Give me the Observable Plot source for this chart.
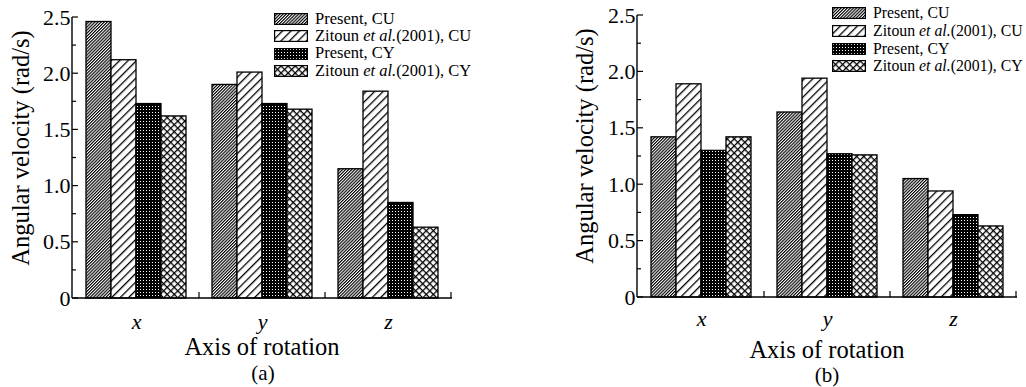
<!DOCTYPE html>
<html><head><meta charset="utf-8">
<script src="https://cdn.jsdelivr.net/npm/d3@7"></script>
<script src="https://cdn.jsdelivr.net/npm/@observablehq/plot@0.6"></script>
<style>
body{margin:0;background:#fff;font-family:"Liberation Serif","Times New Roman",serif;color:#000;}
#root{position:relative;width:1026px;height:387px;overflow:hidden;background:#fff;}
#root svg text{font-family:"Liberation Serif","Times New Roman",serif;}
.legend{position:absolute;line-height:1;}
.legend .row{display:flex;align-items:center;white-space:nowrap;}
.legend svg{margin-right:7px;flex:none;}
.txt{position:absolute;white-space:nowrap;line-height:1;transform:translateX(-50%);}
.ylab{position:absolute;white-space:nowrap;line-height:1;font-size:24.5px;transform:translate(-50%,-50%) rotate(-90deg);}
</style></head><body>
<svg width="0" height="0" style="position:absolute">
<defs>
<pattern id="pCU" patternUnits="userSpaceOnUse" width="2.2" height="4" patternTransform="rotate(45)">
<rect width="2.2" height="4" fill="#fff"/><rect x="0" y="0" width="1.15" height="4" fill="#000"/></pattern>
<pattern id="pZCU" patternUnits="userSpaceOnUse" width="6" height="6" patternTransform="rotate(45)">
<rect width="6" height="6" fill="#fff"/><rect x="0" y="0" width="1.3" height="6" fill="#000"/></pattern>
<pattern id="pCY" patternUnits="userSpaceOnUse" width="3" height="3">
<rect width="3" height="3" fill="#000"/><rect x="1" y="1" width="1" height="1" fill="#fff"/></pattern>
<pattern id="pZCY" patternUnits="userSpaceOnUse" width="5" height="5" patternTransform="rotate(45)">
<rect width="5" height="5" fill="#fff"/><rect x="0" y="0" width="1.3" height="5" fill="#000"/><rect x="0" y="0" width="5" height="1.3" fill="#000"/></pattern>
</defs></svg>
<div id="root"></div>
<script>
// ---- data ----
const groups = ["x", "y", "z"];
const seriesNames = ["Present, CU", "Zitoun et al.(2001), CU", "Present, CY", "Zitoun et al.(2001), CY"];
const patternIds = ["pCU", "pZCU", "pCY", "pZCY"];

// panel (a)
const aPresentCU = [2.46, 1.90, 1.15];
const aZitounCU  = [2.12, 2.01, 1.84];
const aPresentCY = [1.73, 1.73, 0.85];
const aZitounCY  = [1.62, 1.68, 0.63];
// panel (b)
const bPresentCU = [1.42, 1.64, 1.05];
const bZitounCU  = [1.89, 1.94, 0.94];
const bPresentCY = [1.30, 1.27, 0.73];
const bZitounCY  = [1.42, 1.26, 0.63];

const yTicks = [0, 0.5, 1.0, 1.5, 2.0, 2.5];
const yMinorTicks = [0.25, 0.75, 1.25, 1.75, 2.25];
const yLabel = "Angular velocity (rad/s)";
const xLabel = "Axis of rotation";

const SERIF = "'Liberation Serif', 'Times New Roman', serif";

function toRows(seriesArrays) {
  const rows = [];
  seriesArrays.forEach((vals, si) => {
    vals.forEach((v, gi) => rows.push({axis: groups[gi], series: seriesNames[si], value: v}));
  });
  return rows;
}
const rowsA = toRows([aPresentCU, aZitounCU, aPresentCY, aZitounCY]);
const rowsB = toRows([bPresentCU, bZitounCU, bPresentCY, bZitounCY]);
const patternOf = Object.fromEntries(seriesNames.map((s, i) => [s, `url(#${patternIds[i]})`]));

const root = document.getElementById("root");

function makePanel(rows, o) {
  const plot = Plot.plot({
    width: o.width, height: 335,
    marginLeft: o.ml, marginRight: o.mr, marginTop: o.mt, marginBottom: o.mb,
    style: {fontFamily: SERIF, color: "#000", background: "transparent", overflow: "visible"},
    fx: {domain: groups, padding: 0},
    x: {domain: seriesNames, paddingInner: 0, paddingOuter: 0.44, axis: null},
    y: {domain: [0, 2.5]},
    color: {type: "identity"},
    marks: [
      Plot.barY(rows, {fx: "axis", x: "series", y: "value", fill: d => patternOf[d.series], stroke: "#000", strokeWidth: 1.3}),
      Plot.axisY({ticks: yTicks, tickSize: 0, tickPadding: 3, tickFormat: d => d === 0 ? "0" : d.toFixed(1), fontSize: 22, fontFamily: SERIF, label: null}),
      Plot.axisFx({anchor: "bottom", tickSize: 0, tickPadding: o.fxPad, fontSize: 22, fontStyle: "italic", fontFamily: SERIF, label: null})
    ]
  });
  plot.style.position = "absolute";
  plot.style.left = o.left + "px";
  plot.style.top = "0px";
  // axis decorations drawn from the plot's own scales
  const fx = plot.scale("fx"), y = plot.scale("y");
  const svg = d3.select(plot.tagName.toLowerCase() === "svg" ? plot : plot.querySelector("svg"));
  const g = svg.append("g").attr("stroke", "#000").attr("fill", "none");
  const x0 = fx.range[0], x1 = fx.range[1];
  const y0 = y.apply(0), yTop = y.apply(2.5);
  g.append("line").attr("x1", x0).attr("x2", x0).attr("y1", y0).attr("y2", yTop).attr("stroke-width", 1.4);
  g.append("line").attr("x1", x0).attr("x2", x1).attr("y1", y0).attr("y2", y0).attr("stroke-width", 1.4);
  yTicks.forEach(t => g.append("line").attr("x1", x0).attr("x2", x0 + 6).attr("y1", y.apply(t)).attr("y2", y.apply(t)).attr("stroke-width", 1.2));
  yMinorTicks.forEach(t => g.append("line").attr("x1", x0).attr("x2", x0 + 4).attr("y1", y.apply(t)).attr("y2", y.apply(t)).attr("stroke-width", 1.2));
  groups.forEach(gr => {
    const xe = fx.apply(gr) + fx.bandwidth;
    g.append("line").attr("x1", xe).attr("x2", xe).attr("y1", y0).attr("y2", y0 - 6).attr("stroke-width", 1.2);
  });
  root.appendChild(plot);
}

makePanel(rowsA, {left: 0, width: 470, ml: 72, mr: 18, mt: 17, mb: 37, fxPad: 15});
makePanel(rowsB, {left: 560, width: 466, ml: 77, mr: 9, mt: 15, mb: 38, fxPad: 12.5});

function addText(cls, text, left, top, size) {
  const d = document.createElement("div");
  d.className = cls;
  d.textContent = text;
  d.style.left = left + "px";
  d.style.top = top + "px";
  if (size) d.style.fontSize = size + "px";
  root.appendChild(d);
  return d;
}
// y labels
addText("ylab", yLabel, 21, 147.5);
addText("ylab", yLabel, 585, 146);
// x labels and captions
addText("txt", xLabel, 262, 335, 24.5);
addText("txt", xLabel, 827, 338, 24.5);
addText("txt", "(a)", 263, 363, 21);
addText("txt", "(b)", 827, 365, 21);

function addLegend(left, top, rowH, size) {
  const lg = document.createElement("div");
  lg.className = "legend";
  lg.style.left = left + "px";
  lg.style.top = top + "px";
  lg.style.fontSize = size + "px";
  seriesNames.forEach((s, i) => {
    const row = document.createElement("div");
    row.className = "row";
    row.style.height = rowH + "px";
    const sw = `<svg width="34" height="12"><rect x="0.6" y="0.6" width="32.8" height="10.8" fill="url(#${patternIds[i]})" stroke="#000" stroke-width="1.2"/></svg>`;
    const label = s.replace("et al.", "<i>et al.</i>");
    row.innerHTML = sw + `<span>${label}</span>`;
    lg.appendChild(row);
  });
  root.appendChild(lg);
}
addLegend(274, 10.5, 17.3, 16.5);
addLegend(832, 4.1, 17.8, 15.8);
</script>
</body></html>
